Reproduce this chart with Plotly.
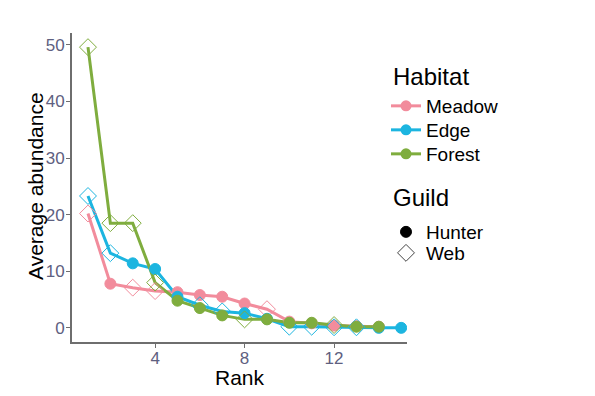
import plotly.graph_objects as go

ranks_meadow = list(range(1, 15))
meadow_vals = [20.2, 7.8, 7.1, 6.5, 6.3, 5.8, 5.5, 4.3, 3.3, 1.1, 0.8, 0.4, 0.3, 0.2]
meadow_guild = ["Web", "Hunter", "Web", "Web", "Hunter", "Hunter", "Hunter", "Hunter", "Web",
                "Hunter", "Hunter", "Hunter", "Hunter", "Hunter"]

ranks_edge = list(range(1, 16))
edge_vals = [23.3, 13.2, 11.4, 10.4, 5.5, 4.0, 2.9, 2.6, 1.6, 0.2, 0.2, 0.1, 0.1, 0.0, 0.0]
edge_guild = ["Web", "Web", "Hunter", "Hunter", "Hunter", "Web", "Web", "Hunter", "Hunter",
              "Web", "Web", "Web", "Web", "Hunter", "Hunter"]

ranks_forest = list(range(1, 15))
forest_vals = [49.6, 18.5, 18.5, 8.0, 4.8, 3.5, 2.2, 1.5, 1.5, 0.9, 0.9, 0.5, 0.2, 0.2]
forest_guild = ["Web", "Web", "Web", "Web", "Hunter", "Hunter", "Hunter", "Web", "Hunter",
                "Hunter", "Hunter", "Web", "Hunter", "Hunter"]

habitats = ["Meadow", "Edge", "Forest"]
colors = {"Meadow": "#F28C9C", "Edge": "#1CB5E0", "Forest": "#7FAD3E"}
data = {
    "Meadow": (ranks_meadow, meadow_vals, meadow_guild),
    "Edge": (ranks_edge, edge_vals, edge_guild),
    "Forest": (ranks_forest, forest_vals, forest_guild),
}
guilds = ["Hunter", "Web"]
symbols = {"Hunter": "circle", "Web": "diamond-open"}
sizes = {"Hunter": 11, "Web": 13}

L, R, T, B = 72, 188, 33, 54
W, H = 595, 396
pw, ph = W - L - R, H - T - B


def px_x(p):
    return (p - L) / pw


def px_y(p):
    return (H - B - p) / ph


fig = go.Figure()

for h in habitats:
    x, y, g = data[h]
    fig.add_trace(go.Scatter(x=x, y=y, mode="lines", line=dict(color=colors[h], width=3),
                             showlegend=False, hoverinfo="skip"))

for h in habitats:
    x, y, g = data[h]
    for gu in guilds:
        xs = [xi for xi, gi in zip(x, g) if gi == gu]
        ys = [yi for yi, gi in zip(y, g) if gi == gu]
        fig.add_trace(go.Scatter(x=xs, y=ys, mode="markers",
                                 marker=dict(symbol=symbols[gu], size=sizes[gu], color=colors[h],
                                             line=dict(width=1, color=colors[h])),
                                 showlegend=False))

legend_font = dict(size=19, color="black")
legend_layouts = {}
# legend entries: one legend per item for exact spacing
hab_item_y = [106, 130, 154]
for i, h in enumerate(habitats):
    lname = "legend" if i == 0 else f"legend{i + 1}"
    fig.add_trace(go.Scatter(x=[None], y=[None], mode="lines+markers", name=h,
                             line=dict(color=colors[h], width=3),
                             marker=dict(symbol="circle", size=11, color=colors[h]),
                             legend=lname))
    legend_layouts[lname] = dict(x=px_x(386), y=px_y(hab_item_y[i] - 19), xanchor="left",
                                 yanchor="top", font=legend_font, bgcolor="rgba(0,0,0,0)",
                                 itemwidth=30)
guild_item_y = [232, 253]
for j, gu in enumerate(guilds):
    lname = f"legend{4 + j}"
    c = "#444444" if gu == "Web" else "black"
    fig.add_trace(go.Scatter(x=[None], y=[None], mode="markers", name=gu,
                             marker=dict(symbol=symbols[gu], size=sizes[gu], color=c,
                                         line=dict(width=1, color=c)),
                             legend=lname))
    legend_layouts[lname] = dict(x=px_x(386), y=px_y(guild_item_y[j] - 19), xanchor="left",
                                 yanchor="top", font=legend_font, bgcolor="rgba(0,0,0,0)",
                                 itemwidth=30)

tickfont = dict(family="Liberation Sans, Arial, sans-serif", size=17, color="#5E6080")

fig.update_layout(
    width=W, height=H,
    margin=dict(l=L, r=R, t=T, b=B),
    plot_bgcolor="white", paper_bgcolor="white",
    font=dict(family="Liberation Sans, Arial, sans-serif", color="black"),
    xaxis=dict(range=[0.285, 15.26], tickvals=[4, 8, 12], ticktext=["4", "8", "12"],
               showgrid=False, zeroline=False, showline=True, linecolor="#6E6E6E", linewidth=2,
               ticks="outside", ticklen=4, tickcolor="#6E6E6E", tickfont=tickfont,
               automargin=False, ticklabelstandoff=-4),
    yaxis=dict(range=[-2.5, 52.1], tickvals=[0, 10, 20, 30, 40, 50],
               showgrid=False, zeroline=False, showline=True, linecolor="#6E6E6E", linewidth=2,
               ticks="outside", ticklen=4, tickcolor="#6E6E6E", tickfont=tickfont,
               automargin=False, ticklabelstandoff=-2),
    annotations=[
        dict(text="Habitat", x=px_x(391), y=px_y(76), xref="paper", yref="paper",
             xanchor="left", yanchor="middle", showarrow=False,
             font=dict(size=24, color="black")),
        dict(text="Guild", x=px_x(391), y=px_y(197), xref="paper", yref="paper",
             xanchor="left", yanchor="middle", showarrow=False,
             font=dict(size=24, color="black")),
        dict(text="Rank", x=px_x(240), y=px_y(377), xref="paper", yref="paper",
             xanchor="center", yanchor="middle", showarrow=False,
             font=dict(size=21, color="black")),
        dict(text="Average abundance", x=px_x(35), y=px_y(186), xref="paper", yref="paper",
             xanchor="center", yanchor="middle", showarrow=False, textangle=-90,
             font=dict(size=21, color="black")),
    ],
    **legend_layouts,
)

fig.write_html("out.html", post_script="document.body.style.margin='0';",
               config={"displayModeBar": False})
